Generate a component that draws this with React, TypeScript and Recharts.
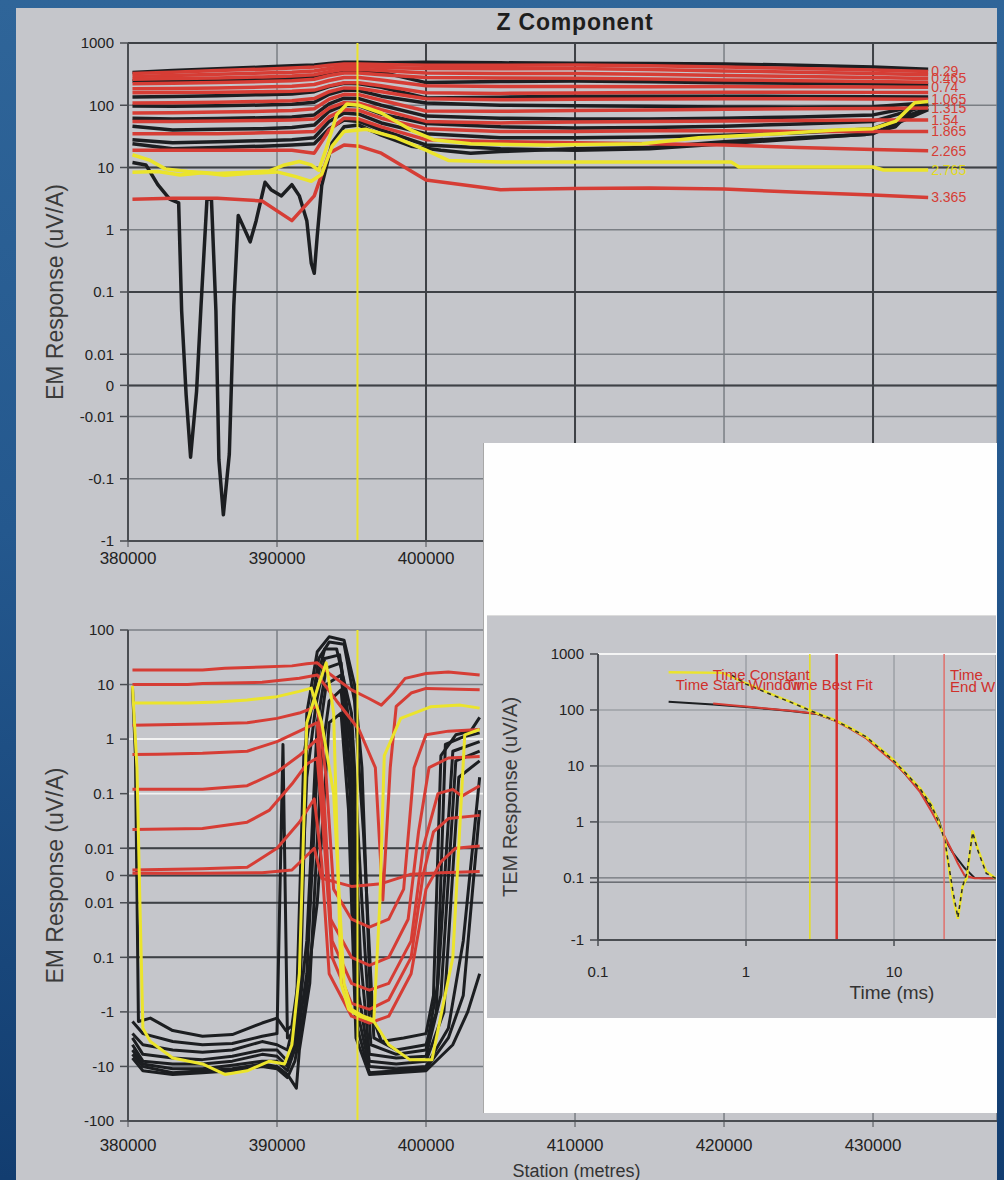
import React from 'react';
import { LineChart, Line, XAxis, YAxis, CartesianGrid, ReferenceLine } from 'recharts';

const FONT = '"Liberation Sans", Arial, Helvetica, sans-serif';
const RED = '#d63d35';
const BLACK = '#1c1e21';
const YELLOW = '#ebe42c';
const PANEL = '#c5c6cb';
const GRID = '#7a7e84';
const DARK = '#3e4146';

// ---------------- axis ticks ----------------
const STATION_TICKS = [380000, 390000, 400000, 410000, 420000, 430000];
const STATION_LABELS = ['380000', '390000', '400000', '410000', '420000', '430000'];
const TOP_Y_TICKS = [1000, 100, 10, 1, 0.1, 0.01, 0, -0.01, -0.1, -1];
const TOP_Y_LABELS = ['1000', '100', '10', '1', '0.1', '0.01', '0', '-0.01', '-0.1', '-1'];
const BOT_Y_TICKS = [100, 10, 1, 0.1, 0.01, 0, -0.01, -0.1, -1, -10, -100];
const BOT_Y_LABELS = ['100', '10', '1', '0.1', '0.01', '0', '0.01', '0.1', '-1', '-10', '-100'];
const INSET_Y_TICKS = [1000, 100, 10, 1, 0.1, 0, -1];
const INSET_Y_LABELS = ['1000', '100', '10', '1', '0.1', '', '-1'];
const TIME_TICKS = [0.1, 1, 10];
const TIME_LABELS = ['0.1', '1', '10'];

const MARKER_STATION = 395400;
const INSET_MARK_TIMES = [2.7, 4.1, 21.8];

// ---------------- top chart: Z component ----------------
const TOP_STATIONS = [380300, 383000, 386000, 389000, 391000, 392500, 393500, 394500, 395500, 397000, 400000, 405000, 410000, 415000, 420000, 425000, 430000, 433700];

const TOP_R1 = [324, 340, 360, 380, 395, 410, 440, 460, 460, 450, 440, 440, 445, 430, 410, 390, 370, 350];
const TOP_R2 = [290, 300, 315, 330, 340, 355, 390, 420, 420, 405, 390, 385, 390, 375, 355, 340, 325, 310];
const TOP_R3 = [262, 268, 275, 285, 295, 310, 345, 380, 380, 360, 330, 325, 325, 315, 300, 290, 280, 270];
const TOP_R4 = [222, 225, 232, 240, 248, 262, 300, 330, 330, 310, 280, 275, 272, 265, 255, 248, 240, 235];
const TOP_R5 = [184, 186, 190, 196, 202, 215, 250, 280, 280, 255, 206, 200, 200, 198, 200, 198, 196, 195];
const TOP_R6 = [159, 160, 162, 165, 168, 175, 205, 230, 230, 205, 159, 155, 158, 160, 162, 162, 161, 160];
const TOP_R7 = [109, 110, 112, 115, 118, 128, 165, 190, 188, 165, 127, 122, 125, 126, 127, 127, 126, 125];
const TOP_R8 = [75, 76, 78, 80, 82, 88, 125, 150, 148, 120, 81, 80, 82, 84, 86, 88, 89, 90];
const TOP_R9 = [55, 55, 56, 57, 58, 60, 90, 110, 108, 85, 55, 52, 54, 55, 56, 57, 58, 58];
const TOP_R10 = [35, 35, 35, 36, 37, 38, 65, 85, 83, 62, 42, 38, 38, 39, 39, 38, 38, 38];
const TOP_R11 = [19, 19, 19, 19, 19, 17, 40, 62, 60, 45, 28, 26, 25, 24, 23, 21, 19.5, 18.5];
const TOP_R12 = [3.1, 3.2, 3.2, 2.9, 1.4, 3.5, 17, 23, 22, 17, 6.3, 4.4, 4.6, 4.7, 4.5, 4.0, 3.6, 3.3];

const TOP_K1 = [336, 360, 385, 410, 430, 445, 470, 490, 490, 480, 490, 480, 475, 470, 460, 440, 410, 380];
const TOP_K2 = [245, 250, 258, 265, 275, 290, 330, 360, 360, 340, 231, 240, 245, 238, 230, 225, 220, 215];
const TOP_K3 = [136, 138, 142, 148, 152, 165, 200, 225, 222, 195, 131, 135, 140, 140, 140, 138, 137, 136];
const TOP_K4 = [97, 96, 98, 101, 104, 112, 150, 175, 172, 140, 109, 100, 98, 96, 94, 93, 95, 110];
const TOP_K5 = [62, 60, 61, 63, 65, 70, 105, 130, 128, 100, 67, 62, 60, 60, 62, 65, 70, 105];
const TOP_K6 = [46, 40, 41, 42, 44, 48, 80, 100, 98, 72, 51, 45, 43, 44, 46, 50, 55, 100];
const TOP_K7 = [28, 25, 26, 27, 28, 30, 55, 75, 72, 52, 35, 30, 30, 31, 33, 36, 42, 90];
const TOP_K8 = [24, 20, 21, 22, 23, 24, 42, 58, 55, 40, 23, 20, 19, 20, 24, 29, 35, 85];

const TOP_K_DEEP = [[380300, 12], [381200, 11], [382000, 5.3], [382800, 3.1], [383400, 2.7], [383600, 0.05], [383900, -0.003], [384200, -0.045], [384600, -0.002], [384900, 0.06], [385300, 3.1], [385600, 3.1], [385900, 0.05], [386100, -0.05], [386400, -0.38], [386800, -0.04], [387100, 0.06], [387400, 1.7], [388200, 0.64], [388600, 1.4], [389200, 5.8], [389600, 4.4], [390300, 3.5], [391000, 5.3], [391500, 3.5], [392000, 1.4], [392300, 0.29], [392500, 0.2], [392700, 0.8], [393000, 5.1], [393700, 25], [394500, 45], [395500, 48], [397000, 33], [399000, 22], [401000, 19], [403000, 17], [405000, 18], [410000, 20], [415000, 21], [420000, 26], [425000, 30], [429500, 34], [431500, 45], [432800, 95], [433700, 100]];
const TOP_Y1 = [[380300, 16], [381500, 13], [382500, 9.5], [384000, 8.6], [386000, 8.0], [388000, 8.4], [389500, 8.8], [390500, 11], [391500, 12.5], [392300, 11], [392800, 9], [393300, 20], [394000, 70], [394700, 105], [395500, 100], [397000, 75], [399000, 40], [400500, 28], [403000, 24], [408000, 23], [414500, 24], [418300, 30], [423700, 35], [427500, 40], [430000, 42], [431500, 55], [432800, 110], [433700, 115]];
const TOP_Y2 = [[380300, 8.4], [382000, 8.6], [383500, 7.6], [385000, 8.2], [386500, 7.5], [388000, 8.0], [390000, 8.5], [391200, 7.2], [392300, 6.0], [393000, 7.8], [393700, 22], [394500, 38], [396000, 41], [398000, 30], [400000, 19], [401500, 13], [405000, 12.2], [420500, 12.2], [421000, 10.2], [430000, 10.2], [430700, 9.1], [433700, 9.1]];

// gate-time labels at the right end of the red lines ('' = unlabelled)
const TOP_RED_GATES = ['0.29', '', '0.465', '', '0.74', '', '1.065', '1.315', '1.54', '1.865', '2.265', '3.365'];
const TOP_YELLOW_GATE = '2.765';

// ---------------- bottom chart ----------------
const BOT_R1 = [[380300, 18.5], [385000, 18.5], [386500, 20], [389000, 21], [391000, 22], [392000, 24], [392700, 25], [393500, 16], [395000, 8], [396200, 5.5], [397000, 4.2], [397800, 7], [398600, 13], [400000, 16], [401500, 17], [403600, 15]];
const BOT_R2 = [[380300, 10], [384000, 10], [385000, 10.5], [389000, 11], [391500, 13], [392700, 15], [394000, 5], [395500, 1.5], [396600, 0.3], [397100, -0.009], [397600, 0.3], [398000, 4], [399000, 7], [400000, 8.5], [403600, 8]];
const BOT_R3 = [[380300, 1.8], [385000, 1.9], [388000, 2.0], [390000, 2.4], [391500, 3], [392700, 4], [393300, 0.2], [393800, -0.005], [395000, -0.02], [396200, -0.028], [397500, -0.02], [398500, -0.005], [399200, 0.3], [400000, 1.2], [401500, 1.4], [403600, 1.5]];
const BOT_R4 = [[380300, 0.52], [382000, 0.53], [385000, 0.55], [388000, 0.6], [390000, 0.9], [391500, 1.4], [392700, 2], [393200, 0.05], [393600, -0.02], [395000, -0.1], [396200, -0.14], [397500, -0.1], [398800, -0.02], [399500, 0.02], [400200, 0.3], [401500, 0.45], [403600, 0.48]];
const BOT_R5 = [[380300, 0.12], [385000, 0.12], [388000, 0.14], [390000, 0.25], [391500, 0.5], [392700, 1], [393200, 0.02], [393700, -0.05], [395000, -0.3], [396200, -0.4], [397500, -0.3], [399000, -0.05], [399800, 0.01], [400800, 0.1], [401800, 0.12], [402400, 0.09], [403600, 0.14]];
const BOT_R6 = [[380300, 0.022], [385000, 0.023], [388000, 0.03], [389500, 0.05], [391000, 0.15], [392000, 0.35], [392700, 0.45], [393200, 0.01], [393700, -0.1], [395000, -0.7], [396200, -0.9], [397500, -0.6], [399000, -0.1], [399800, 0.0], [400500, 0.02], [401500, 0.035], [403600, 0.04]];
const BOT_R7 = [[380300, 0.002], [385000, 0.0025], [388000, 0.003], [390000, 0.01], [391500, 0.03], [392500, 0.08], [393000, 0.005], [393500, -0.2], [395000, -1.2], [396200, -1.6], [397500, -1.2], [399000, -0.2], [400000, -0.005], [401000, 0.005], [402000, 0.01], [403600, 0.011]];
const BOT_R8 = [[380300, 0.0008], [385000, 0.0008], [389000, 0.001], [391000, 0.002], [392500, 0.01], [393000, -0.001], [395000, -0.004], [397000, -0.003], [399000, 0.0005], [401000, 0.001], [403600, 0.0015]];

const BOT_Y1 = [[380300, 9.5], [380600, 0.3], [380800, -0.01], [381000, -2], [381500, -3.5], [383000, -7], [385000, -9], [386500, -14], [388000, -12], [389500, -8], [390500, -9], [391000, -4], [391500, -0.2], [392000, 2], [392800, 10], [393300, 25], [393800, 3], [394300, -0.3], [394800, -0.9], [395500, -1.2], [396500, -1.5], [397500, -4], [398900, -7.5], [400400, -7.5], [401800, -0.1], [402600, 1.2], [403600, 1.5]];
const BOT_Y2 = [[380300, 4.6], [384000, 4.6], [386000, 4.8], [388000, 5.2], [390000, 6], [391500, 7.5], [392300, 8.6], [393000, 2], [393800, 0.1], [394500, -0.3], [395000, -0.9], [395800, -1.2], [396500, -1.4], [396900, -0.01], [397200, 0.5], [398300, 2.4], [400300, 3.9], [402300, 4.2], [403600, 3.7]];

const BOT_K1 = [[380300, 9], [380500, 0.5], [380700, -1.5], [381500, -1.3], [383000, -2.2], [385000, -2.8], [387000, -2.6], [389000, -1.6], [390000, -1.3], [390600, -2.2], [391000, -1.8], [391500, -0.2], [392000, 3], [392700, 40], [393500, 75], [394500, 65], [395200, 10], [395700, 0.3], [396300, -1], [397000, -3.5], [398500, -3], [400000, -2.5], [400500, -0.5], [401000, 0.5], [402000, 1.2], [403000, 1.4], [403600, 2.5]];
const BOT_K2 = [[380300, -1.5], [381000, -2.5], [383000, -3.5], [385000, -4], [387000, -3.8], [389000, -2.8], [390000, -2.5], [390400, 0.8], [390700, -3], [391500, -2], [392000, 1], [392800, 30], [393500, 60], [394500, 55], [395200, 5], [395800, 0.02], [396500, -3], [398000, -5], [400000, -4], [400700, -1], [401300, 0.8], [402500, 1.1], [403600, 1.3]];
const BOT_K3 = [[380300, -2.5], [381000, -4], [383000, -5], [385000, -5.5], [387000, -5], [389000, -3.5], [390000, -4], [390700, -5], [391300, -1], [391800, 0.5], [392500, 8], [393200, 45], [394000, 45], [395000, 3], [395700, -0.01], [396300, -4], [398000, -6], [400000, -5], [400800, -0.3], [401800, 0.6], [403600, 0.9]];
const BOT_K4 = [[380300, -3], [381000, -6], [383000, -7], [385000, -7.5], [387000, -6.5], [389000, -5], [390000, -5], [390700, -8], [391300, -2], [392000, 0.2], [392600, 4], [393200, 30], [394200, 35], [395000, 1], [395600, -0.1], [396200, -6], [398000, -7], [400000, -6.5], [401000, -0.5], [402000, 0.4], [403600, 0.6]];
const BOT_K5 = [[380300, -4], [381000, -8], [383000, -9], [385000, -9], [387000, -8], [389000, -6], [390000, -6.5], [390700, -10], [391300, -3], [392000, -0.05], [392700, 2], [393300, 20], [394300, 25], [395000, 0.5], [395500, -0.5], [396200, -8], [398000, -9], [400000, -8], [401200, -1], [402200, 0.2], [403600, 0.4]];
const BOT_K6 = [[380300, -5], [381000, -9], [383000, -11], [385000, -11], [387000, -9.5], [389000, -8], [390000, -8], [390700, -12], [391300, -4], [392000, -0.2], [392800, 1], [393300, 10], [394300, 15], [394900, 0.3], [395400, -1], [396200, -10], [398000, -11], [400000, -10], [401500, -2], [402500, -0.05], [403600, 0.2]];
const BOT_K7 = [[380300, -6], [381000, -10], [383000, -13], [385000, -12], [387000, -11], [389000, -9], [390000, -10], [390700, -14], [391300, -25], [391500, -5], [392200, -0.3], [393000, 0.5], [393500, 5], [394300, 8], [394900, 0.1], [395400, -2], [396200, -13], [398000, -12], [400000, -11], [401500, -3], [402500, -0.5], [403600, 0.05]];
const BOT_K8 = [[380300, -7], [381000, -12], [383000, -14], [385000, -13], [387000, -12], [389000, -10], [390000, -11], [390700, -16], [391200, -8], [391800, -1], [392700, -0.01], [393500, 2], [394300, 3], [394800, 0.05], [395300, -3], [396200, -14], [398000, -13], [400000, -12], [401800, -4], [402800, -1], [403600, -0.2]];

// ---------------- inset: TEM decay ----------------
const INSET_BLACK = [[0.3, 140], [0.6, 125], [1, 113], [1.5, 103], [2, 96], [3, 85], [4, 65], [5, 48], [6.5, 32], [8, 20], [10, 12], [12, 7], [15, 3.6], [18, 1.8], [20, 1.1], [22, 0.5], [25, 0.28], [30, 0.15], [35, 0.1], [40, 0.09], [55, 0.09]];
const INSET_RED = [[0.6, 130], [0.8, 122], [1, 115], [1.5, 104], [2, 97], [3, 86], [4, 64], [5, 47], [6.5, 31], [8, 19], [10, 11.5], [12, 7], [15, 3.4], [18, 1.5], [20, 0.9], [22, 0.55], [24, 0.35], [27, 0.18], [30, 0.11], [35, 0.09], [55, 0.09]];
const INSET_YELLOW = [[0.3, 470], [0.7, 460], [1, 300], [1.5, 190], [2, 140], [3, 88], [4, 66], [5, 49], [6.5, 33], [8, 21], [10, 12.5], [12, 7.5], [15, 4], [18, 2], [20, 1], [22, 0.5], [25, -0.15], [27, -0.4], [29, -0.1], [31, 0.1], [34, 0.7], [36.5, 0.35], [42, 0.13], [48, 0.1], [55, 0.1]];
const INSET_DASHED = [[0.8, 420], [1, 290], [1.5, 185], [2, 138], [3, 87], [4, 65], [5, 48], [6.5, 33], [8, 20.5], [10, 12.2], [12, 7.4], [15, 3.9], [18, 1.9], [20, 1], [22, 0.48], [25, -0.12], [27, -0.38], [29, -0.1], [31, 0.12], [34, 0.65], [36.5, 0.33], [42, 0.12], [48, 0.1], [55, 0.1]];

// ---------------- scale transforms ----------------
function symT(v: number) {
  if (v >= 0.01) return Math.log10(v) + 2.5;
  if (v <= -0.01) return -(Math.log10(-v) + 2.5);
  return (v / 0.01) * 0.5;
}
function insT(v: number) {
  if (v >= 0.1) return Math.log10(v) + 1 + 0.08;
  if (v <= -0.1) return -(0.08 + 0.95 * (Math.log10(-v) + 1));
  return (v / 0.1) * 0.08;
}
const fmt = (ticks: number[], labels: string[], tf: (v: number) => number) => (v: number) => {
  const i = ticks.findIndex((t) => Math.abs(tf(t) - v) < 1e-6);
  return i >= 0 ? labels[i] : '';
};
const ident = (v: number) => v;
const lg = (v: number) => Math.log10(v);

const gridPts = (vals: number[]) => TOP_STATIONS.map((x, i) => ({ x, y: symT(vals[i]) }));
const pairPts = (arr: number[][]) => arr.map(([x, v]) => ({ x, y: symT(v) }));
const insetPts = (arr: number[][]) => arr.map(([t, v]) => ({ x: Math.log10(t), y: insT(v) }));

const vb = (p: any) => ({ x: p.viewBox?.x ?? p.x, y: p.viewBox?.y ?? p.y, w: p.viewBox?.width ?? 0, h: p.viewBox?.height ?? 0 });

const endLabel = (text: string, color: string, last: number) => (p: any) => {
  if (p.index !== last || !text) return null;
  const { x, y } = vb(p);
  return (
    <text x={x + 3} y={y + 5} fill={color} fontSize={14} fontFamily={FONT}>
      {text}
    </text>
  );
};

const axisTitle = (text: string, dx: number, size: number) => (p: any) => {
  const { x, y, h } = vb(p);
  const cx = x + dx;
  const cy = y + h / 2;
  return (
    <text x={cx} y={cy} transform={`rotate(-90 ${cx} ${cy})`} textAnchor="middle" dominantBaseline="central" fontSize={size} fill="#3a3a3a" fontFamily={FONT}>
      {text}
    </text>
  );
};

const TOP_RED_SERIES = [TOP_R1, TOP_R2, TOP_R3, TOP_R4, TOP_R5, TOP_R6, TOP_R7, TOP_R8, TOP_R9, TOP_R10, TOP_R11, TOP_R12];
const TOP_BLACK_SERIES = [TOP_K1, TOP_K2, TOP_K3, TOP_K4, TOP_K5, TOP_K6, TOP_K7, TOP_K8];
const BOT_RED_SERIES = [BOT_R1, BOT_R2, BOT_R3, BOT_R4, BOT_R5, BOT_R6, BOT_R7, BOT_R8];
const BOT_BLACK_SERIES = [BOT_K1, BOT_K2, BOT_K3, BOT_K4, BOT_K5, BOT_K6, BOT_K7, BOT_K8];
const BOT_YELLOW_SERIES = [BOT_Y1, BOT_Y2];

const tickStyle = { fontSize: 15, fill: '#222', fontFamily: FONT };
const xTickStyle = { fontSize: 17, fill: '#222', fontFamily: FONT };

function TopChart() {
  const yTicks = TOP_Y_TICKS.map(symT);
  const last = TOP_STATIONS.length - 1;
  return (
    <LineChart width={981} height={570} margin={{ top: 35, right: 0, bottom: 0, left: 0 }}>
      <CartesianGrid stroke={GRID} strokeWidth={1.5} />
      <XAxis type="number" dataKey="x" domain={[380000, 438320]} allowDataOverflow ticks={STATION_TICKS} interval={0}
        tickFormatter={fmt(STATION_TICKS, STATION_LABELS, ident)} height={37} tick={xTickStyle} tickMargin={5}
        axisLine={{ stroke: '#4a4d52', strokeWidth: 2 }} tickLine={{ stroke: '#4a4d52' }} />
      <YAxis type="number" domain={[-2.5, 5.5]} allowDataOverflow ticks={yTicks} interval={0}
        tickFormatter={fmt(TOP_Y_TICKS, TOP_Y_LABELS, symT)} width={112} tick={tickStyle} tickSize={8} tickMargin={6}
        axisLine={{ stroke: '#4a4d52', strokeWidth: 2 }} tickLine={{ stroke: '#4a4d52', strokeWidth: 1.5 }}
        label={axisTitle('EM Response (uV/A)', 39, 23)} />
      {[10, 0.1, 0, 1000].map((v) => (
        <ReferenceLine key={'h' + v} y={symT(v)} stroke={DARK} strokeWidth={2} />
      ))}
      {[400000, 410000, 430000].map((v) => (
        <ReferenceLine key={'v' + v} x={v} stroke={DARK} strokeWidth={2} />
      ))}
      {TOP_BLACK_SERIES.map((s, i) => (
        <Line key={'tk' + i} data={gridPts(s)} dataKey="y" stroke={BLACK} strokeWidth={3.5} dot={false} activeDot={false} isAnimationActive={false} strokeLinejoin="round" />
      ))}
      <Line data={pairPts(TOP_K_DEEP)} dataKey="y" stroke={BLACK} strokeWidth={3.5} dot={false} activeDot={false} isAnimationActive={false} strokeLinejoin="round" />
      {TOP_RED_SERIES.map((s, i) => (
        <Line key={'tr' + i} data={gridPts(s)} dataKey="y" stroke={RED} strokeWidth={3.5} dot={false} activeDot={false} isAnimationActive={false} strokeLinejoin="round"
          label={endLabel(TOP_RED_GATES[i], RED, last)} />
      ))}
      <Line data={pairPts(TOP_Y1)} dataKey="y" stroke={YELLOW} strokeWidth={3.5} dot={false} activeDot={false} isAnimationActive={false} strokeLinejoin="round" />
      <Line data={pairPts(TOP_Y2)} dataKey="y" stroke={YELLOW} strokeWidth={3.5} dot={false} activeDot={false} isAnimationActive={false} strokeLinejoin="round"
        label={endLabel(TOP_YELLOW_GATE, '#e2da1c', TOP_Y2.length - 1)} />
      <ReferenceLine x={MARKER_STATION} stroke={YELLOW} strokeWidth={2} />
    </LineChart>
  );
}

function BottomChart() {
  const yTicks = BOT_Y_TICKS.map(symT);
  return (
    <LineChart width={981} height={580} margin={{ top: 30, right: 0, bottom: 0, left: 0 }}>
      <CartesianGrid stroke={GRID} strokeWidth={1.5} />
      <XAxis type="number" dataKey="x" domain={[380000, 438320]} allowDataOverflow ticks={STATION_TICKS} interval={0}
        tickFormatter={fmt(STATION_TICKS, STATION_LABELS, ident)} height={59} tick={xTickStyle} tickMargin={12}
        axisLine={{ stroke: '#4a4d52', strokeWidth: 2 }} tickLine={{ stroke: '#4a4d52' }}
        label={{ value: 'Station (metres)', position: 'insideBottom', offset: 3, dx: 14, fontSize: 18, fill: '#333', fontFamily: FONT }} />
      <YAxis type="number" domain={[-4.5, 4.5]} allowDataOverflow ticks={yTicks} interval={0}
        tickFormatter={fmt(BOT_Y_TICKS, BOT_Y_LABELS, symT)} width={112} tick={tickStyle} tickSize={8} tickMargin={6}
        axisLine={{ stroke: '#4a4d52', strokeWidth: 2 }} tickLine={{ stroke: '#4a4d52', strokeWidth: 1.5 }}
        label={axisTitle('EM Response (uV/A)', 39, 23)} />
      {[1, 0.1].map((v) => (
        <ReferenceLine key={'w' + v} y={symT(v)} stroke="#f2f2f2" strokeWidth={2} />
      ))}
      {[0.01, 0, -0.01, -0.1].map((v) => (
        <ReferenceLine key={'d' + v} y={symT(v)} stroke={DARK} strokeWidth={2} />
      ))}
      {BOT_BLACK_SERIES.map((s, i) => (
        <Line key={'bk' + i} data={pairPts(s)} dataKey="y" stroke={BLACK} strokeWidth={3} dot={false} activeDot={false} isAnimationActive={false} strokeLinejoin="round" />
      ))}
      {BOT_RED_SERIES.map((s, i) => (
        <Line key={'br' + i} data={pairPts(s)} dataKey="y" stroke={RED} strokeWidth={3} dot={false} activeDot={false} isAnimationActive={false} strokeLinejoin="round" />
      ))}
      {BOT_YELLOW_SERIES.map((s, i) => (
        <Line key={'by' + i} data={pairPts(s)} dataKey="y" stroke={YELLOW} strokeWidth={3} dot={false} activeDot={false} isAnimationActive={false} strokeLinejoin="round" />
      ))}
      <ReferenceLine x={MARKER_STATION} stroke={YELLOW} strokeWidth={2} />
    </LineChart>
  );
}

const insetNotes = (p: any) => {
  const { x, y } = vb(p);
  return (
    <g fontFamily={FONT} fontSize={15} fill="#d0302c">
      <text x={x - 124} y={y + 26}>Time Constant</text>
      <text x={x - 161} y={y + 36}>Time Start Window</text>
      <text x={x + 36} y={y + 36} textAnchor="end">Time Best Fit</text>
    </g>
  );
};
const endNotes = (p: any) => {
  const { x, y } = vb(p);
  return (
    <g fontFamily={FONT} fontSize={15} fill="#d0302c">
      <text x={x + 6} y={y + 26}>Time</text>
      <text x={x + 6} y={y + 38}>End W</text>
    </g>
  );
};

function InsetChart() {
  const yTicks = INSET_Y_TICKS.map(insT);
  const xTicks = TIME_TICKS.map(lg);
  return (
    <LineChart width={509} height={402} margin={{ top: 38, right: 0, bottom: 0, left: 0 }}>
      <CartesianGrid stroke="#9da0a6" strokeWidth={1.5} />
      <XAxis type="number" dataKey="x" domain={[-1, 1.689]} allowDataOverflow ticks={xTicks} interval={0}
        tickFormatter={fmt(TIME_TICKS, TIME_LABELS, lg)} height={78} tick={tickStyle} tickMargin={20} tickSize={6}
        axisLine={{ stroke: '#4a4d52', strokeWidth: 2 }} tickLine={{ stroke: '#4a4d52', strokeWidth: 1.5 }}
        label={{ value: 'Time (ms)', position: 'insideBottom', offset: 19, dx: 95, fontSize: 19, fill: '#333', fontFamily: FONT }} />
      <YAxis type="number" domain={[-1.03, 4.08]} allowDataOverflow ticks={yTicks} interval={0}
        tickFormatter={fmt(INSET_Y_TICKS, INSET_Y_LABELS, insT)} width={111} tick={tickStyle} tickSize={8} tickMargin={6}
        axisLine={{ stroke: '#4a4d52', strokeWidth: 2 }} tickLine={{ stroke: '#4a4d52', strokeWidth: 1.5 }}
        label={axisTitle('TEM Response (uV/A)', 23, 20)} />
      <ReferenceLine y={insT(1000)} stroke="#f4f4f4" strokeWidth={2} />
      <ReferenceLine y={insT(0.1)} stroke="#85888e" strokeWidth={1.5} />
      <ReferenceLine y={insT(0)} stroke="#6c6f75" strokeWidth={1.5} />
      <Line data={insetPts(INSET_BLACK)} dataKey="y" stroke={BLACK} strokeWidth={2} dot={false} activeDot={false} isAnimationActive={false} />
      <Line data={insetPts(INSET_RED)} dataKey="y" stroke={RED} strokeWidth={2} dot={false} activeDot={false} isAnimationActive={false} />
      <Line data={insetPts(INSET_YELLOW)} dataKey="y" stroke={YELLOW} strokeWidth={2.5} dot={false} activeDot={false} isAnimationActive={false} />
      <Line data={insetPts(INSET_DASHED)} dataKey="y" stroke="#2a2a2a" strokeWidth={1.5} strokeDasharray="4 4" dot={false} activeDot={false} isAnimationActive={false} />
      <ReferenceLine x={lg(INSET_MARK_TIMES[0])} stroke="#e6df1c" strokeWidth={1.5} />
      <ReferenceLine x={lg(INSET_MARK_TIMES[1])} stroke="#d8312b" strokeWidth={2.5} label={insetNotes} />
      <ReferenceLine x={lg(INSET_MARK_TIMES[2])} stroke="#e0716c" strokeWidth={1.5} label={endNotes} />
    </LineChart>
  );
}

export default function App() {
  return (
    <div style={{ position: 'absolute', left: 0, top: 0, width: 1004, height: 1180, overflow: 'hidden', fontFamily: FONT,
      background: 'linear-gradient(180deg, #2f6599 0%, #24588e 45%, #123d70 100%)' }}>
      <div style={{ position: 'absolute', left: 16, top: 8, width: 981, height: 1172, background: PANEL }} />
      <div style={{ position: 'absolute', left: 16, top: 8 }}>
        <TopChart />
      </div>
      <div style={{ position: 'absolute', left: 425, top: 9, width: 300, textAlign: 'center', fontSize: 23, fontWeight: 'bold', color: '#1e1e1e', letterSpacing: 0.8 }}>
        Z Component
      </div>
      <div style={{ position: 'absolute', left: 16, top: 600 }}>
        <BottomChart />
      </div>
      <div style={{ position: 'absolute', left: 483, top: 443, width: 521, height: 670, background: '#fefefe', borderLeft: '1px solid #a8a8a8', boxSizing: 'border-box' }} />
      <div style={{ position: 'absolute', left: 487, top: 615, width: 509, height: 402, background: PANEL, borderTop: '1px solid #dcdcdc' }}>
        <InsetChart />
      </div>
      <div style={{ position: 'absolute', left: 997, top: 0, width: 7, height: 1180, background: 'linear-gradient(180deg, #2f6599 0%, #24588e 45%, #123d70 100%)' }} />
    </div>
  );
}
